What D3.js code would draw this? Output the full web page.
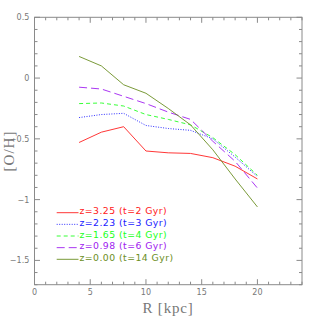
<!DOCTYPE html>
<html><head><meta charset="utf-8">
<script src="https://cdn.jsdelivr.net/npm/d3@7"></script>
<style>body{margin:0;background:#fff}svg{display:block}</style>
</head><body>
<script>
const radii = [4, 6, 8, 10, 12, 14, 16, 18, 20];
const z325 = [-0.53, -0.445, -0.40, -0.60, -0.615, -0.62, -0.655, -0.725, -0.83];
const z223 = [-0.325, -0.30, -0.29, -0.39, -0.415, -0.43, -0.50, -0.65, -0.81];
const z165 = [-0.21, -0.205, -0.23, -0.30, -0.34, -0.385, -0.49, -0.63, -0.80];
const z098 = [-0.075, -0.09, -0.15, -0.21, -0.28, -0.34, -0.52, -0.685, -0.905];
const z000 = [0.178, 0.10, -0.055, -0.125, -0.25, -0.385, -0.59, -0.83, -1.06];
const labels = ["z=3.25 (t=2 Gyr)", "z=2.23 (t=3 Gyr)", "z=1.65 (t=4 Gyr)", "z=0.98 (t=6 Gyr)", "z=0.00 (t=14 Gyr)"];
const xTicks = [0, 5, 10, 15, 20];
const yTicks = [0.5, 0, -0.5, -1, -1.5];

const series = [
  {vals: z325, color: "#ff2020", dash: null},
  {vals: z223, color: "#1a1aff", dash: "1,1.5"},
  {vals: z165, color: "#20ff20", dash: "4,3"},
  {vals: z098, color: "#a020f0", dash: "8,4"},
  {vals: z000, color: "#6b8e23", dash: null}
];

const W = 319, H = 319;
const L = 34.5, R = 302, T = 17.3, B = 284.7;
const svg = d3.select("body").append("svg").attr("width", W).attr("height", H);
const x = d3.scaleLinear().domain([0, 24]).range([L, R]);
const y = d3.scaleLinear().domain([-1.7, 0.5]).range([B, T]);
const axisCol = "#8a8a8a";

svg.append("rect").attr("x", L).attr("y", T).attr("width", R - L).attr("height", B - T)
  .attr("fill", "none").attr("stroke", axisCol).attr("stroke-width", 1);

const xMinor = d3.range(0, 25, 1);
const yMinor = d3.range(-17, 6, 1).map(d => d / 10);
const isMajorX = d => d % 5 === 0;
const isMajorY = d => Math.abs(Math.round(d * 10) % 5) === 0;

const g = svg.append("g").attr("stroke", axisCol).attr("stroke-width", 1);
xMinor.forEach(d => {
  const len = isMajorX(d) ? 5.5 : 3;
  g.append("line").attr("x1", x(d)).attr("x2", x(d)).attr("y1", B).attr("y2", B - len);
  g.append("line").attr("x1", x(d)).attr("x2", x(d)).attr("y1", T).attr("y2", T + len);
});
yMinor.forEach(d => {
  const len = isMajorY(d) ? 5.5 : 3;
  g.append("line").attr("y1", y(d)).attr("y2", y(d)).attr("x1", L).attr("x2", L + len);
  g.append("line").attr("y1", y(d)).attr("y2", y(d)).attr("x1", R).attr("x2", R - len);
});

const tickFont = "'DejaVu Sans', sans-serif";
svg.append("g").selectAll("text").data(xTicks).join("text")
  .attr("x", d => x(d)).attr("y", 295).attr("text-anchor", "middle")
  .attr("font-family", tickFont).attr("font-size", 8).attr("fill", "#777")
  .text(d => d);
svg.append("g").selectAll("text").data(yTicks).join("text")
  .attr("x", 29.3).attr("y", d => y(d) + 3).attr("text-anchor", "end")
  .attr("font-family", tickFont).attr("font-size", 8).attr("fill", "#777")
  .text(d => d === 0 ? "0" : (d < 0 ? "\u2212" + Math.abs(d) : d));

svg.append("text").attr("x", 168).attr("y", 313).attr("text-anchor", "middle")
  .attr("font-family", "'Liberation Serif', serif").attr("font-size", 15).attr("fill", "#777")
  .attr("letter-spacing", 0.8).text("R [kpc]");
svg.append("text").attr("transform", `translate(13.5,151) rotate(-90)`).attr("text-anchor", "middle")
  .attr("font-family", "'Liberation Serif', serif").attr("font-size", 15).attr("fill", "#777")
  .attr("letter-spacing", 1).text("[O/H]");

const line = d3.line().x((d, i) => x(radii[i])).y(d => y(d));
series.forEach(s => {
  svg.append("path").datum(s.vals).attr("d", line).attr("fill", "none")
    .attr("stroke", s.color).attr("stroke-width", 0.9)
    .attr("stroke-dasharray", s.dash);
});

series.forEach((s, i) => {
  const ly = 212.7 + i * 11.65;
  svg.append("line").attr("x1", 56.7).attr("x2", 78.5).attr("y1", ly).attr("y2", ly)
    .attr("stroke", s.color).attr("stroke-width", 0.9).attr("stroke-dasharray", s.dash);
  svg.append("text").attr("x", 79.5).attr("y", ly + 1.5)
    .attr("font-family", tickFont).attr("font-size", 9.3).attr("letter-spacing", 0.45)
    .attr("fill", s.color).text(labels[i]);
});
</script>
</body></html>
